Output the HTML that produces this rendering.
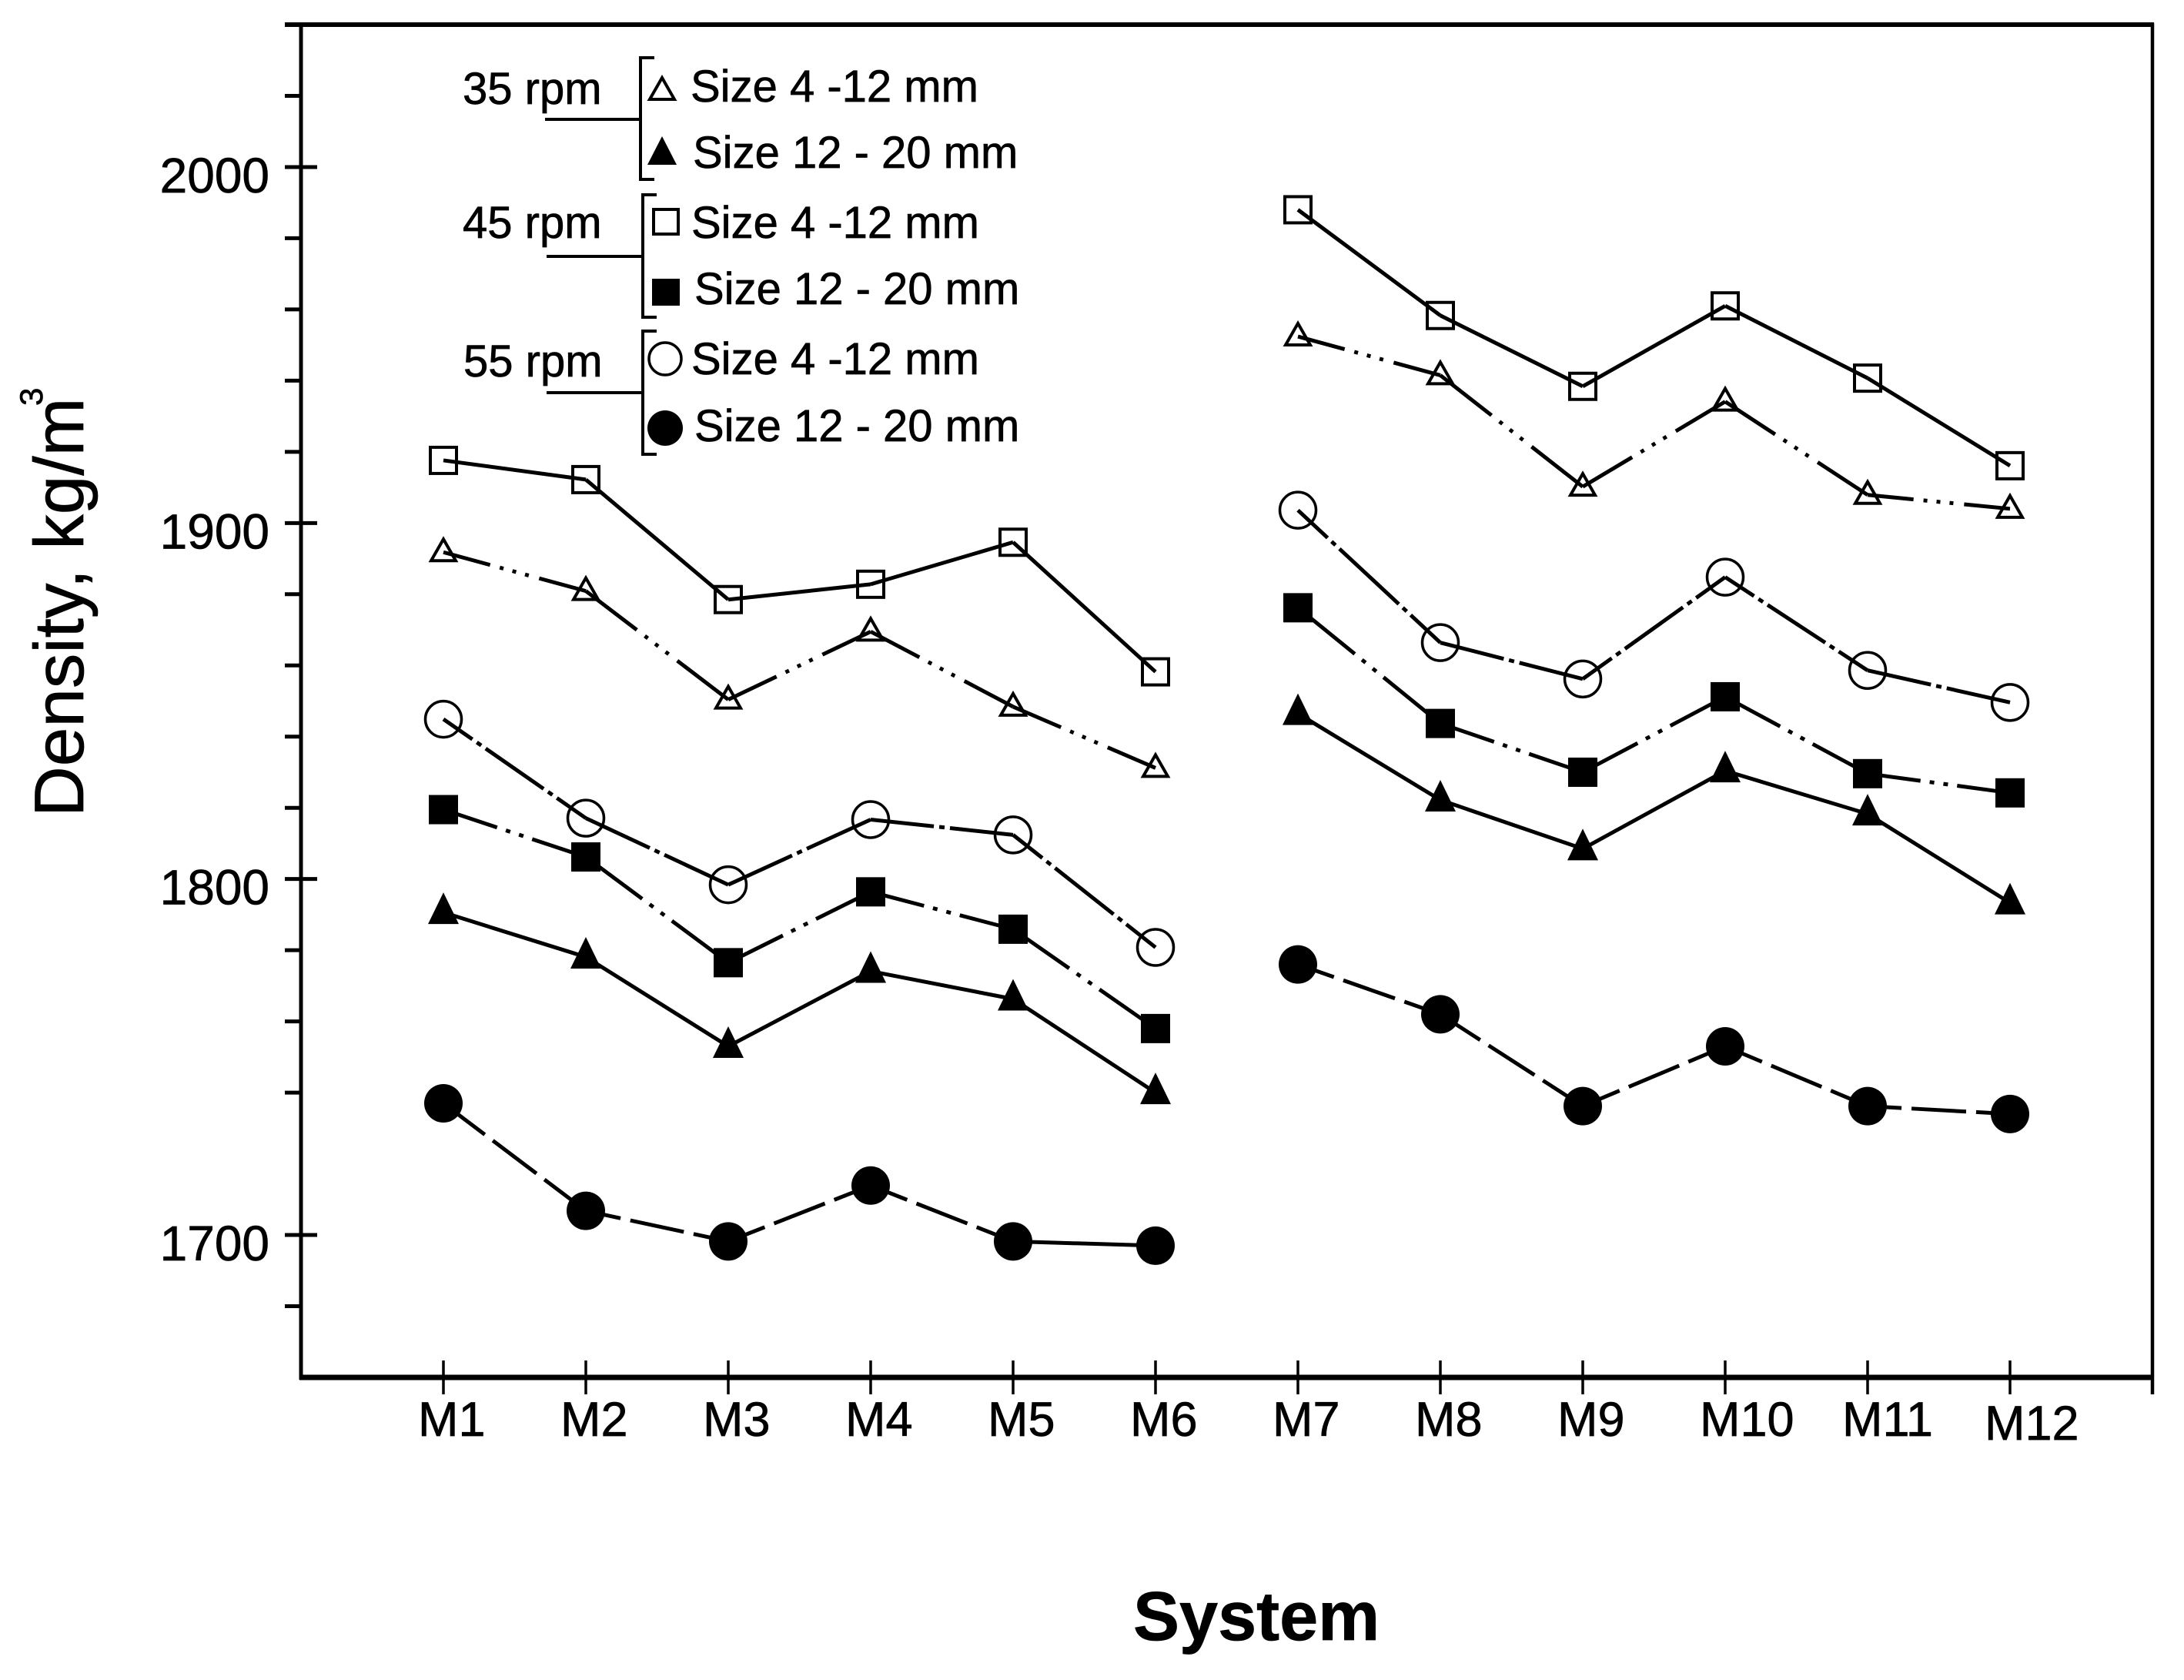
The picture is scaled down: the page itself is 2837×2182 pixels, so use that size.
<!DOCTYPE html>
<html lang="en">
<head>
<meta charset="utf-8">
<title>Density by system</title>
<style>
html,body{margin:0;padding:0;background:#fff;}
svg{display:block;font-family:"Liberation Sans",sans-serif;}
text{fill:#000;stroke:#000;stroke-width:0.7px;}
</style>
</head>
<body>
<svg id="chart" xmlns="http://www.w3.org/2000/svg" width="2837" height="2182" viewBox="0 0 2837 2182">
  <rect width="2837" height="2182" fill="#fff"/>
  <g id="axes" stroke="#000" fill="none" stroke-linecap="butt">
    <line x1="370" y1="32" x2="2798" y2="32" stroke-width="6"/>
    <line x1="391" y1="30" x2="391" y2="1792" stroke-width="5"/>
    <line x1="389" y1="1789" x2="2798" y2="1789" stroke-width="7"/>
    <line x1="2796" y1="30" x2="2796" y2="1811" stroke-width="4.5"/>
  </g>
  <g id="y-ticks"></g>
  <g id="x-ticks"></g>
  <g id="series"></g>

  <text transform="translate(108,1061) rotate(-90)" font-size="91">Density, kg/m</text>
  <text transform="translate(55,527) rotate(-90)" font-size="42">3</text>
  <text x="1472" y="2130" font-size="90" font-weight="700">System</text>

  <g id="legend">
    <g>
      <text x="601" y="135" font-size="58">35 rpm</text>
      <path d="M850 75H832V233H850M708 155H832" fill="none" stroke="#000" stroke-width="4"/>
      <polygon points="860,101 876,129 844,129" fill="none" stroke="#000" stroke-width="4"/>
      <text x="897" y="132" font-size="58">Size 4 -12 mm</text>
      <polygon points="860,177 879,214 841,214" fill="#000"/>
      <text x="900" y="218" font-size="58">Size 12 - 20 mm</text>
    </g>
    <g>
      <text x="601" y="309" font-size="58">45 rpm</text>
      <path d="M853 253H835V412H853M710 333H835" fill="none" stroke="#000" stroke-width="4"/>
      <rect x="849" y="272" width="32" height="32" fill="none" stroke="#000" stroke-width="4"/>
      <text x="898" y="309" font-size="58">Size 4 -12 mm</text>
      <rect x="847" y="362" width="36" height="35" fill="#000"/>
      <text x="902" y="395" font-size="58">Size 12 - 20 mm</text>
    </g>
    <g>
      <text x="602" y="489" font-size="58">55 rpm</text>
      <path d="M853 430H835V590H853M710 510H835" fill="none" stroke="#000" stroke-width="4"/>
      <circle cx="864" cy="466" r="21" fill="none" stroke="#000" stroke-width="3.5"/>
      <text x="898" y="486" font-size="58">Size 4 -12 mm</text>
      <circle cx="864" cy="556" r="23" fill="#000"/>
      <text x="902" y="573" font-size="58">Size 12 - 20 mm</text>
    </g>
  </g>
</svg>
<script>
const categories = ['M1','M2','M3','M4','M5','M6','M7','M8','M9','M10','M11','M12'];
const majorTicks = [1700,1800,1900,2000];
const minorTicks = [1680,1740,1760,1780,1820,1840,1860,1880,1920,1940,1960,1980,2020];
const breakAfterCategory = 'M6';

const rpm45Small = [1917.6,1912.2,1878.5,1882.8,1894.6,1858.2,1988,1958.3,1938.4,1961,1940.7,1916.1];
const rpm35Small = [1891.8,1880.9,1850.4,1869.5,1848.4,1831.2,1952.4,1941.5,1910.2,1934.1,1907.9,1904];
const rpm55Small = [1844.9,1817.1,1798.4,1816.7,1812.4,1780.8,1903.6,1866.4,1856.2,1884.8,1858.6,1849.6];
const rpm45Large = [1819.5,1806.2,1776.5,1796.4,1785.9,1758,1876.2,1843.7,1830,1851.2,1829.6,1824.2];
const rpm35Large = [1790.6,1778.1,1753,1774.1,1766.3,1740,1846.5,1822.2,1808.5,1830.4,1818.3,1793.3];
const rpm55Large = [1737,1706.8,1698.2,1713.9,1698.2,1697,1776,1762,1736.2,1753,1736.2,1734];

const SVGNS = 'http://www.w3.org/2000/svg';
function xScale(i){ return 576 + i * 185; }
function yScale(v){ return 1789 - (v - 1660) * (1757 / 380); }
function make(tag, attrs, parent){
  const e = document.createElementNS(SVGNS, tag);
  for (const k in attrs) e.setAttribute(k, attrs[k]);
  parent.appendChild(e);
  return e;
}

const yTicksG = document.getElementById('y-ticks');
majorTicks.forEach(function(v){
  const y = yScale(v);
  const t = make('line', {x1:370, y1:y, x2:412, y2:y, stroke:'#000', 'stroke-width':5}, yTicksG);
  
  
  const l = make('text', {x:350, y:y + 33, 'font-size':64, 'text-anchor':'end'}, yTicksG);
  
  
  l.textContent = String(v);
});
minorTicks.forEach(function(v){
  const y = yScale(v);
  const t = make('line', {x1:370, y1:y, x2:391, y2:y, stroke:'#000', 'stroke-width':5}, yTicksG);
  
  
});

const xTicksG = document.getElementById('x-ticks');
categories.forEach(function(c, i){
  const x = xScale(i);
  const t = make('line', {x1:x, y1:1767, x2:x, y2:1811, stroke:'#000', 'stroke-width':3.5}, xTicksG);
  
  
  const l = make('text', {x:x - 33, y:c === 'M12' ? 1870 : 1865, 'font-size':63}, xTicksG);
  
  
  l.textContent = c;
});

function solid(){ return null; }
function threeDots(L){
  const d = Math.max(0, (L - 66) / 2);
  return [d,13,5,12,5,12,5,14,d];
}
function twoDots(L){
  const d = Math.max(0, (L - 48) / 2);
  return [d,12,6,12,6,12,d];
}
function oneOrTwoDots(L){
  if (L > 210) {
    const a = L * 0.25 - 10.5, b = L * 0.5 - 21;
    return [a,7,7,7,b,7,7,7,a];
  }
  const d = Math.max(0, (L - 21) / 2);
  return [d,7,7,7,d];
}
function longDashes(L, startCategory){
  if (startCategory === 'M5') return null;
  const e = Math.max(0, (L - 97) / 2);
  return [e,13,71,13,e];
}

function drawMarker(kind, x, y, g){
  let m;
  if (kind === 'open-square') {
    m = make('rect', {x:x-17, y:y-17, width:34, height:34, fill:'none', stroke:'#000', 'stroke-width':4}, g);
  } else if (kind === 'filled-square') {
    m = make('rect', {x:x-19, y:y-19, width:38, height:38, fill:'#000'}, g);
  } else if (kind === 'open-circle') {
    m = make('circle', {cx:x, cy:y, r:23.5, fill:'none', stroke:'#000', 'stroke-width':3.5}, g);
  } else if (kind === 'filled-circle') {
    m = make('circle', {cx:x, cy:y, r:25, fill:'#000'}, g);
  } else if (kind === 'open-triangle') {
    m = make('polygon', {points:[x,y-17,x+16,y+11,x-16,y+11].join(' '), fill:'none', stroke:'#000', 'stroke-width':4}, g);
  } else {
    m = make('polygon', {points:[x,y-26,x+20,y+15,x-20,y+15].join(' '), fill:'#000'}, g);
  }
  return m;
}

function drawSeries(name, values, marker, dashFn){
  const g = make('g', {}, document.getElementById('series'));
  
  
  values.forEach(function(v, i){
    const m = drawMarker(marker, xScale(i), yScale(v), g);
    
    
  });
  for (let i = 0; i < values.length - 1; i++) {
    if (categories[i] === breakAfterCategory) continue;
    const x1 = xScale(i), y1 = yScale(values[i]), x2 = xScale(i + 1), y2 = yScale(values[i + 1]);
    const L = Math.hypot(x2 - x1, y2 - y1);
    const dash = dashFn(L, categories[i]);
    const seg = make('line', {x1:x1, y1:y1, x2:x2, y2:y2, stroke:'#000', 'stroke-width':5}, g);
    if (dash) seg.setAttribute('stroke-dasharray', dash.join(' '));
    
    
  }
}

drawSeries('series-45rpm-4-12mm', rpm45Small, 'open-square', solid);
drawSeries('series-35rpm-4-12mm', rpm35Small, 'open-triangle', threeDots);
drawSeries('series-55rpm-4-12mm', rpm55Small, 'open-circle', oneOrTwoDots);
drawSeries('series-45rpm-12-20mm', rpm45Large, 'filled-square', twoDots);
drawSeries('series-35rpm-12-20mm', rpm35Large, 'filled-triangle', solid);
drawSeries('series-55rpm-12-20mm', rpm55Large, 'filled-circle', longDashes);
</script>
</body>
</html>
